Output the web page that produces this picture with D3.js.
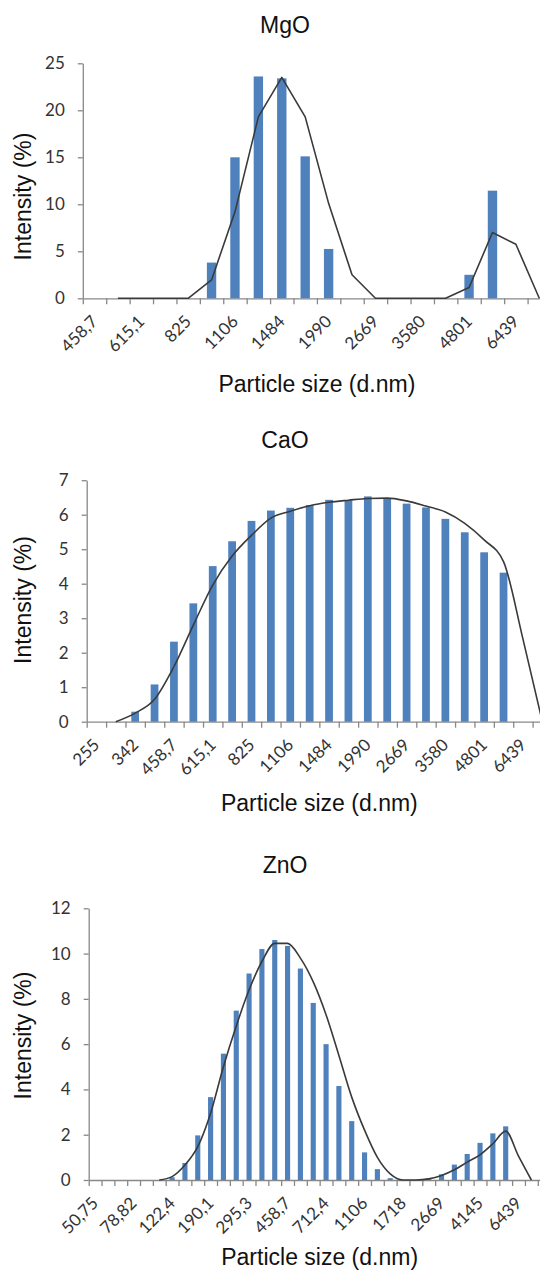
<!DOCTYPE html>
<html>
<head>
<meta charset="utf-8">
<script src="https://cdn.jsdelivr.net/npm/d3@7"></script>
<style>
  body { margin: 0; background: #fff; }
  svg { display: block; }
  .tick text { font-family: Lato, "Open Sans", sans-serif; font-size: 17px; fill: #333; }
  .xlab { font-family: Lato, "Open Sans", sans-serif; font-size: 17px; fill: #333; }
  .title, .axis-title { font-family: "Liberation Sans", Arial, sans-serif; font-size: 23px; fill: #111; }
</style>
</head>
<body>
<div id="chart"></div>
<script>
// size classes (d.nm), decimal comma as printed on the axis
const mgoSizes = ["458,7","531,2","615,1","712,4","825","955,4","1106","1281","1484","1718",
  "1990","2305","2669","3091","3580","4145","4801","5560","6439","7456"];
const mgoBars = [null,null,null,null,null,3.8,15.0,23.6,23.4,15.1,
  5.25,null,null,null,null,null,2.5,11.45,null,null];
const mgoFit = [null,0,0,0,0,1.95,9.2,19.3,23.5,19.3,
  10.1,2.5,0,0,0,0,1.15,7.0,5.75,0];
const mgoTicks = [0,5,10,15,20,25];

const caoSizes = ["255","295,3","342","396,1","458,7","531,2","615,1","712,4","825","955,4",
  "1106","1281","1484","1718","1990","2305","2669","3091","3580","4145","4801","5560","6439","7456"];
const caoBars = [null,null,0.29,1.08,2.32,3.43,4.51,5.23,5.82,6.12,
  6.2,6.28,6.43,6.42,6.53,6.47,6.32,6.21,5.88,5.49,4.91,4.32,null,null];
const caoFit = [null,0,0.25,0.65,1.6,2.8,3.96,4.8,5.4,5.9,
  6.1,6.26,6.36,6.42,6.47,6.48,6.4,6.25,6.08,5.75,5.27,4.64,2.4,0];
const caoTicks = [0,1,2,3,4,5,6,7];

const znoSizes = ["50,75","58,77","68,06","78,82","91,28","105,7","122,4","141,8","164,2","190,1",
  "220,2","255","295,3","342","396,1","458,7","531,2","615,1","712,4","825",
  "955,4","1106","1281","1484","1718","1990","2305","2669","3091","3580",
  "4145","4801","5560","6439","7456","8635"];
const znoBars = [null,null,null,null,null,null,0.12,0.75,1.97,3.66,
  5.58,7.48,9.12,10.2,10.6,10.34,9.34,7.82,6.0,4.15,
  2.6,1.22,0.48,0.08,null,null,0.07,0.25,0.68,1.15,
  1.64,2.06,2.37,null,null,null];
const znoFit = [null,null,null,null,null,0,0.15,0.66,1.47,2.95,
  5.0,6.8,8.4,9.65,10.45,10.45,9.8,8.75,7.3,5.5,
  3.66,2.2,1.0,0.27,0,0,0.05,0.2,0.45,0.79,
  1.11,1.6,2.16,1.05,0,null];
const znoTicks = [0,2,4,6,8,10,12];

const width = 540, height = 1272;
const barColor = "#4F81BD";
const axisColor = "#888888";

const panels = [
  { title: "MgO", sizes: mgoSizes, bars: mgoBars, fit: mgoFit, ticks: mgoTicks, every: 2, smooth: false,
    left: 82.8, right: 551, top: 63.3, bottom: 298.3, titleY: 33, xTitleY: 392, yTitleY: 196.5 },
  { title: "CaO", sizes: caoSizes, bars: caoBars, fit: caoFit, ticks: caoTicks, every: 2, smooth: true,
    left: 86.7, right: 552, top: 480.2, bottom: 721.7, titleY: 448, xTitleY: 811, yTitleY: 600 },
  { title: "ZnO", sizes: znoSizes, bars: znoBars, fit: znoFit, ticks: znoTicks, every: 3, smooth: true,
    left: 88.7, right: 550.6, top: 908.3, bottom: 1180, titleY: 873, xTitleY: 1265, yTitleY: 1035.5 }
];

const svg = d3.select("#chart").append("svg")
    .attr("width", width)
    .attr("height", height)
    .attr("viewBox", `0 0 ${width} ${height}`);

svg.append("rect").attr("width", width).attr("height", height).attr("fill", "#fff");

panels.forEach(p => {
    const n = p.sizes.length;
    const g = svg.append("g");

    // bars sit in the middle 40% of each category slot
    const x = d3.scaleBand()
        .domain(d3.range(n))
        .range([p.left, p.right])
        .paddingInner(0.6)
        .paddingOuter(0.3);
    const cx = i => x(i) + x.bandwidth() / 2;

    // category boundaries, used for the tick marks between categories
    const xb = d3.scaleLinear().domain([0, n]).range([p.left, p.right]);

    const y = d3.scaleLinear()
        .domain([0, p.ticks[p.ticks.length - 1]])
        .range([p.bottom, p.top]);

    // y axis
    const yAxis = g.append("g")
        .attr("transform", `translate(${p.left},0)`)
        .call(d3.axisLeft(y).tickValues(p.ticks).tickFormat(d3.format("d"))
            .tickSize(5).tickSizeOuter(0).tickPadding(13));
    yAxis.select(".domain").attr("stroke", axisColor).attr("stroke-width", 1.3);
    yAxis.selectAll(".tick line").attr("stroke", axisColor).attr("stroke-width", 1.3);

    // x axis
    const xAxis = g.append("g")
        .attr("transform", `translate(0,${p.bottom})`)
        .call(d3.axisBottom(xb).tickValues(d3.range(0, n + 1)).tickFormat("").tickSize(6).tickSizeOuter(0));
    xAxis.select(".domain").attr("stroke", axisColor).attr("stroke-width", 1.3);
    xAxis.selectAll(".tick line").attr("stroke", axisColor).attr("stroke-width", 1.3);

    // rotated category labels, every 2nd or 3rd one
    g.append("g").selectAll("text")
        .data(p.sizes.map((s, i) => ({ s, i })).filter(d => d.i % p.every === 0))
        .join("text")
        .attr("class", "xlab")
        .attr("text-anchor", "end")
        .attr("dy", "0.35em")
        .attr("transform", d => `translate(${cx(d.i)},${p.bottom + 20}) rotate(-45)`)
        .text(d => d.s);

    // bars
    g.append("g").selectAll("rect")
        .data(p.bars.map((v, i) => ({ v, i })).filter(d => d.v != null))
        .join("rect")
        .attr("x", d => x(d.i))
        .attr("width", x.bandwidth())
        .attr("y", d => y(d.v))
        .attr("height", d => y(0) - y(d.v))
        .attr("fill", barColor);

    // fitted distribution line
    const line = d3.line()
        .defined(d => d.v != null)
        .x(d => cx(d.i))
        .y(d => y(d.v))
        .curve(p.smooth ? d3.curveMonotoneX : d3.curveLinear);

    g.append("path")
        .datum(p.fit.map((v, i) => ({ v, i })))
        .attr("d", line)
        .attr("fill", "none")
        .attr("stroke", "#3a3a3a")
        .attr("stroke-width", 1.6)
        .attr("stroke-linejoin", "round");

    // titles
    g.append("text")
        .attr("class", "title")
        .attr("x", 285)
        .attr("y", p.titleY)
        .attr("text-anchor", "middle")
        .text(p.title);

    g.append("text")
        .attr("class", "axis-title")
        .attr("x", (p.left + p.right) / 2)
        .attr("y", p.xTitleY)
        .attr("text-anchor", "middle")
        .text("Particle size (d.nm)");

    g.append("text")
        .attr("class", "axis-title")
        .attr("transform", `translate(31,${p.yTitleY}) rotate(-90)`)
        .attr("text-anchor", "middle")
        .text("Intensity (%)");
});
</script>
</body>
</html>
